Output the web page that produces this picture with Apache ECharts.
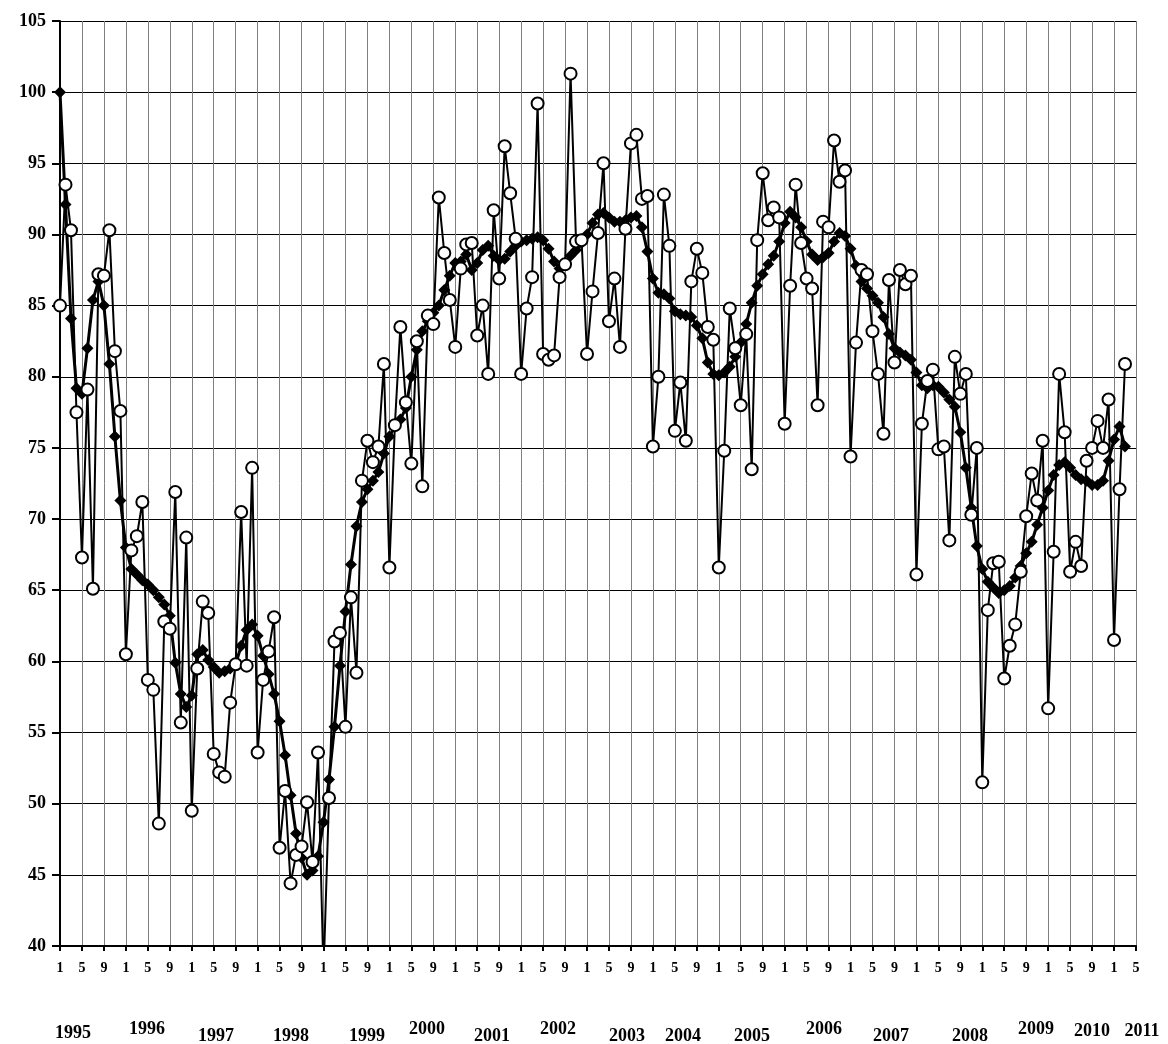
<!DOCTYPE html>
<html>
<head>
<meta charset="utf-8">
<script src="https://cdn.jsdelivr.net/npm/echarts@6/dist/echarts.min.js"></script>
<style>
  html, body { margin: 0; padding: 0; background: #fff; }
  #chart { width: 1168px; height: 1044px; }
</style>
</head>
<body>
<div id="chart"></div>
<script>
// months 1995-01 .. 2011-05 on the axis, data up to 2011-03
const years = [1995, 1996, 1997, 1998, 1999, 2000, 2001, 2002, 2003, 2004, 2005, 2006, 2007, 2008, 2009, 2010, 2011];
const lastMonth2011 = 5;

// monthly index (open circles)
const monthly = [
  85.0, 93.5, 90.3, 77.5, 67.3, 79.1, 65.1, 87.2, 87.1, 90.3, 81.8, 77.6,
  60.5, 67.8, 68.8, 71.2, 58.7, 58.0, 48.6, 62.8, 62.3, 71.9, 55.7, 68.7,
  49.5, 59.5, 64.2, 63.4, 53.5, 52.2, 51.9, 57.1, 59.8, 70.5, 59.7, 73.6,
  53.6, 58.7, 60.7, 63.1, 46.9, 50.9, 44.4, 46.4, 47.0, 50.1, 45.9, 53.6,
  38.0, 50.4, 61.4, 62.0, 55.4, 64.5, 59.2, 72.7, 75.5, 74.0, 75.1, 80.9,
  66.6, 76.6, 83.5, 78.2, 73.9, 82.5, 72.3, 84.3, 83.7, 92.6, 88.7, 85.4,
  82.1, 87.6, 89.3, 89.4, 82.9, 85.0, 80.2, 91.7, 86.9, 96.2, 92.9, 89.7,
  80.2, 84.8, 87.0, 99.2, 81.6, 81.2, 81.5, 87.0, 87.9, 101.3, 89.5, 89.6,
  81.6, 86.0, 90.1, 95.0, 83.9, 86.9, 82.1, 90.4, 96.4, 97.0, 92.5, 92.7,
  75.1, 80.0, 92.8, 89.2, 76.2, 79.6, 75.5, 86.7, 89.0, 87.3, 83.5, 82.6,
  66.6, 74.8, 84.8, 82.0, 78.0, 83.0, 73.5, 89.6, 94.3, 91.0, 91.9, 91.2,
  76.7, 86.4, 93.5, 89.4, 86.9, 86.2, 78.0, 90.9, 90.5, 96.6, 93.7, 94.5,
  74.4, 82.4, 87.5, 87.2, 83.2, 80.2, 76.0, 86.8, 81.0, 87.5, 86.5, 87.1,
  66.1, 76.7, 79.7, 80.5, 74.9, 75.1, 68.5, 81.4, 78.8, 80.2, 70.3, 75.0,
  51.5, 63.6, 66.9, 67.0, 58.8, 61.1, 62.6, 66.3, 70.2, 73.2, 71.3, 75.5,
  56.7, 67.7, 80.2, 76.1, 66.3, 68.4, 66.7, 74.1, 75.0, 76.9, 75.0, 78.4,
  61.5, 72.1, 80.9
];

// smoothed trend (filled diamonds)
const trend = [
  100.0, 92.1, 84.1, 79.2, 78.8, 82.0, 85.4, 86.7, 85.0, 80.9, 75.8, 71.3,
  68.0, 66.5, 66.1, 65.7, 65.4, 65.0, 64.5, 64.0, 63.2, 59.9, 57.7, 56.8,
  57.6, 60.5, 60.8, 60.1, 59.6, 59.2, 59.3, 59.5, 59.8, 61.1, 62.2, 62.6,
  61.8, 60.4, 59.1, 57.7, 55.8, 53.4, 50.6, 47.9, 46.2, 45.0, 45.3, 46.3,
  48.7, 51.7, 55.4, 59.7, 63.5, 66.8, 69.5, 71.2, 72.1, 72.7, 73.3, 74.6,
  75.8, 76.5, 77.0, 77.8, 80.0, 81.9, 83.2, 83.9, 84.5, 85.0, 86.1, 87.1,
  88.0, 88.1, 88.6, 87.5, 88.0, 88.9, 89.2, 88.5, 88.2, 88.3, 88.8, 89.2,
  89.5, 89.6, 89.7, 89.8, 89.6, 89.0, 88.1, 87.6, 88.0, 88.5, 88.9, 89.4,
  90.0, 90.8, 91.4, 91.5, 91.2, 90.9, 90.9, 91.0, 91.2, 91.3, 90.5, 88.8,
  86.9, 85.9, 85.8, 85.5, 84.6, 84.4, 84.3, 84.2, 83.6, 82.7, 81.0, 80.2,
  80.1, 80.3, 80.7, 81.4, 82.4, 83.7, 85.2, 86.4, 87.2, 87.9, 88.5, 89.5,
  90.8, 91.6, 91.2, 90.5, 89.5, 88.6, 88.2, 88.4, 88.7, 89.5, 90.1, 89.9,
  89.0, 87.8, 86.7, 86.2, 85.7, 85.2, 84.2, 83.0, 82.0, 81.7, 81.5, 81.2,
  80.3, 79.4, 79.2, 79.4, 79.3, 78.9, 78.4, 77.9, 76.1, 73.6, 70.8, 68.1,
  66.5, 65.6, 65.2, 64.8, 65.0, 65.3, 65.9, 66.7, 67.6, 68.4, 69.6, 70.8,
  72.0, 73.1, 73.8, 74.0, 73.6, 73.1, 72.8, 72.7, 72.4, 72.4, 72.7, 74.1,
  75.6, 76.5, 75.1
];

// year captions under the axis (placed by hand like the original)
const yearLabelX = [73, 147, 216, 291, 367, 427, 492, 558, 627, 683, 752, 824, 891, 970, 1036, 1092, 1142];
const yearLabelY = [1033, 1029, 1036, 1036, 1036, 1029, 1036, 1029, 1036, 1036, 1036, 1029, 1036, 1036, 1029, 1031, 1031];

const months = [];
years.forEach(function (y) {
  const last = y === 2011 ? lastMonth2011 : 12;
  for (let m = 1; m <= last; m++) months.push(y + "-" + m);
});

const every4 = function (idx) { return idx % 4 === 0; };
const serif = '"Liberation Serif", "Times New Roman", serif';

const chart = echarts.init(document.getElementById("chart"));
chart.setOption({
  animation: false,
  backgroundColor: "#fff",
  grid: { left: 60, right: 32, top: 21, bottom: 98 },
  xAxis: {
    type: "category",
    data: months,
    boundaryGap: false,
    axisLine: { lineStyle: { color: "#000", width: 2 } },
    axisTick: { show: true, interval: every4, length: 5, lineStyle: { color: "#000", width: 2 } },
    axisLabel: {
      interval: every4,
      margin: 15,
      color: "#000",
      fontFamily: serif,
      fontWeight: "bold",
      fontSize: 14,
      formatter: function (v) { return v.split("-")[1]; },
    },
    splitLine: { show: true, interval: every4, lineStyle: { color: "#7f7f7f", width: 1 } },
  },
  yAxis: {
    type: "value",
    min: 40,
    max: 105,
    interval: 5,
    axisLine: { show: true, lineStyle: { color: "#000", width: 2 } },
    axisTick: { show: true, length: 8, lineStyle: { color: "#000", width: 2 } },
    axisLabel: {
      margin: 14,
      color: "#000",
      fontFamily: serif,
      fontWeight: "bold",
      fontSize: 18,
    },
    splitLine: { show: true, lineStyle: { color: "#000", width: 1 } },
  },
  series: [
    {
      name: "trend",
      type: "line",
      data: trend,
      symbol: "diamond",
      symbolSize: 12,
      showAllSymbol: true,
      lineStyle: { color: "#000", width: 3 },
      itemStyle: { color: "#000", borderColor: "#000", borderWidth: 0 },
      z: 2,
    },
    {
      name: "monthly",
      type: "line",
      data: monthly,
      symbol: "circle",
      symbolSize: 12,
      showAllSymbol: true,
      lineStyle: { color: "#000", width: 2 },
      itemStyle: { color: "#fff", borderColor: "#000", borderWidth: 2 },
      z: 3,
    },
  ],
  graphic: years.map(function (y, i) {
    return {
      type: "text",
      x: yearLabelX[i],
      y: yearLabelY[i],
      style: {
        text: String(y),
        fill: "#000",
        font: "bold 18px " + serif,
        textAlign: "center",
        textVerticalAlign: "middle",
      },
    };
  }),
});
</script>
</body>
</html>
